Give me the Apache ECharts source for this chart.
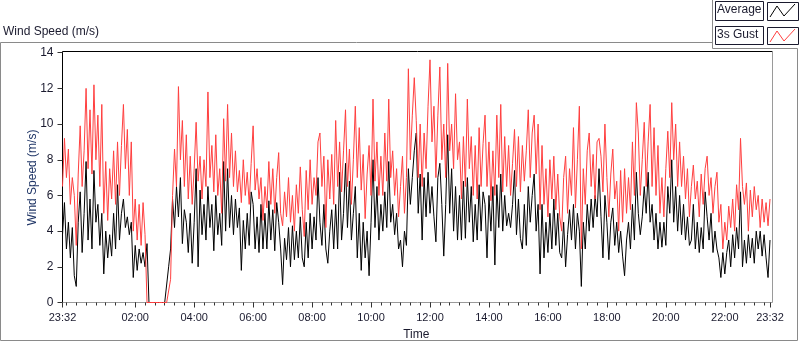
<!DOCTYPE html>
<html><head><meta charset="utf-8">
<script src="https://cdn.jsdelivr.net/npm/echarts@6/dist/echarts.min.js"></script>
<style>html,body{margin:0;padding:0;background:#fff}#c{width:800px;height:342px}</style>
</head><body><div id="c"></div>
<script>
// ---- data (sampled every 4 minutes from 23:32 to 23:32 next day) ----
const startMinute = 23 * 60 + 32;
const stepMinutes = 4;
const tickLabels = ['23:32','02:00','04:00','06:00','08:00','10:00','12:00','14:00','16:00','18:00','20:00','22:00','23:32'];
const seriesNames = ['Average', '3s Gust'];
const averageValues = [
3.8,5.6,3.0,4.5,2.5,4.2,1.5,0.9,4.5,6.2,
2.8,5.0,7.9,3.5,5.8,3.0,7.4,4.5,5.5,3.2,
5.0,1.6,4.0,2.5,3.8,2.6,5.0,3.0,6.6,3.5,
5.0,5.8,4.2,4.8,3.8,4.5,1.4,3.2,1.8,3.0,
2.2,2.8,2.0,3.3,0,0,0,0,0,0,
0,0,0,0,2.0,3.0,5.8,4.2,6.5,4.8,
7.0,3.3,5.2,4.5,2.8,5.0,2.2,4.5,7.5,2.0,
6.3,3.8,5.5,3.5,6.5,4.2,5.5,2.9,6.0,3.8,
5.0,3.2,7.9,4.0,7.5,4.2,6.0,3.8,5.8,4.2,
5.3,1.8,4.6,3.0,5.0,3.2,6.2,5.5,3.0,4.8,
2.8,5.5,3.0,5.0,3.0,5.7,3.5,5.2,2.9,5.6,
4.5,3.0,1.0,3.6,2.4,4.2,2.0,4.3,2.4,4.0,
2.5,4.8,2.5,2.0,4.5,2.5,5.0,3.0,4.8,3.5,
7.0,4.5,3.2,5.5,3.0,2.2,4.0,5.2,3.0,5.5,
3.0,7.3,3.5,5.0,7.8,4.2,6.8,3.5,5.0,6.5,
2.5,5.0,1.8,4.5,2.5,4.0,1.5,4.5,8.0,4.2,
6.5,3.5,5.5,4.0,6.2,4.2,7.9,4.5,5.5,3.8,
5.0,3.0,3.5,2.0,4.0,3.2,7.5,5.5,7.0,8.5,
9.5,5.0,7.2,3.5,7.0,4.8,7.3,5.0,6.5,4.8,
3.4,7.0,7.8,5.5,2.6,5.5,9.4,5.0,7.5,4.0,
6.5,3.5,6.0,3.5,6.8,3.6,7.0,4.5,6.5,3.4,
5.5,3.5,6.6,4.0,6.2,5.5,2.5,6.0,4.0,6.5,
2.1,6.6,4.2,7.2,4.0,6.0,4.3,5.0,4.2,5.5,
7.4,3.8,5.8,3.6,3.0,5.5,3.2,6.5,4.5,6.0,
7.2,4.0,5.5,1.6,5.5,2.5,4.5,2.8,5.0,3.0,
5.8,3.2,5.0,2.8,2.5,4.5,2.0,3.8,5.2,3.5,
5.5,3.0,5.0,4.0,0.9,4.5,3.0,5.5,4.0,5.8,
4.2,6.0,4.8,7.5,4.8,2.5,6.0,4.5,2.4,4.5,
5.3,3.2,4.5,2.8,4.0,2.6,1.5,3.5,4.5,3.0,
5.5,3.5,7.3,5.0,3.8,4.8,6.5,5.0,7.3,4.5,
5.5,3.5,5.0,3.0,4.5,3.1,4.5,3.2,6.5,5.0,
8.0,4.5,6.5,4.0,6.0,3.8,5.5,3.5,4.8,3.2,
3.5,5.5,3.0,4.5,2.8,4.2,3.0,6.2,4.8,3.5,
5.0,2.8,4.0,3.0,2.5,1.4,2.8,1.6,2.8,3.5,
2.0,3.8,2.5,4.2,3.0,6.2,2.0,3.5,2.2,3.8,
2.5,3.6,2.2,4.0,3.0,4.0,2.6,3.8,2.5,1.4,3.5
];
const gustValues = [
6.5,9.2,7.0,8.6,5.5,7.0,6.0,3.2,7.2,9.9,
6.5,8.5,12.0,7.5,10.8,7.2,12.2,8.0,10.5,6.5,
11.1,5.0,7.9,4.6,7.5,5.8,8.5,5.5,9.0,6.0,
8.8,11.1,7.5,9.7,6.0,9.0,4.0,5.8,3.5,5.5,
3.2,5.6,3.8,0,0,0,0,0,0,0,
0,0,0,0,0,1.3,6.0,8.6,6.5,12.1,
8.0,10.2,6.5,9.4,5.8,8.2,5.5,7.5,10.1,6.8,
8.2,5.8,8.0,6.5,11.8,7.0,8.8,6.2,9.4,6.0,
7.5,5.0,10.3,6.8,11.1,7.0,9.5,6.5,8.5,6.2,
7.4,5.6,8.0,6.0,7.3,5.5,7.8,9.9,6.3,7.5,
5.8,7.0,4.6,6.5,5.3,7.9,5.5,7.5,5.0,7.0,
8.4,5.0,4.3,6.2,4.8,7.0,4.5,6.0,4.0,6.6,
5.0,7.6,5.2,3.7,7.4,5.2,8.0,5.5,7.0,6.0,
9.0,9.5,6.5,8.2,4.2,8.0,5.8,8.3,5.5,10.2,
6.5,9.0,6.2,8.5,10.8,6.5,8.6,5.5,8.0,11.0,
7.0,9.8,6.3,8.3,4.7,7.2,8.8,6.0,11.4,6.8,
9.0,6.0,8.2,6.0,9.5,6.8,11.4,7.0,8.5,6.0,
7.5,4.8,6.5,8.2,5.0,7.0,13.1,8.0,10.5,12.6,
10.2,7.0,10.0,6.5,9.5,7.5,11.0,13.6,9.0,11.0,
7.0,10.5,13.2,8.0,10.0,7.0,13.4,8.5,10.0,7.5,
11.7,8.0,9.0,5.8,9.3,6.5,11.4,7.5,9.3,6.0,
8.8,5.8,9.8,6.5,8.9,10.5,6.5,9.0,5.7,8.5,
6.0,10.5,7.0,11.1,6.2,9.3,6.5,8.8,6.0,7.8,
9.7,6.5,9.3,6.2,8.8,6.8,8.5,10.8,7.0,9.5,
10.5,7.2,10.0,5.2,8.8,5.5,7.5,4.8,8.0,5.8,
8.2,5.2,7.2,4.8,4.0,7.0,8.2,5.0,7.5,6.0,
9.8,5.3,8.0,11.0,3.0,7.5,5.5,8.5,9.5,6.5,
8.3,5.8,9.0,9.2,8.2,6.2,10.0,7.0,4.8,7.2,
8.6,5.8,6.8,4.0,7.4,4.5,7.5,5.0,7.0,5.2,
9.0,6.0,11.2,9.5,6.0,8.0,10.1,6.5,9.0,11.1,
6.5,9.8,6.0,8.8,5.0,7.0,4.8,7.5,9.6,7.0,
11.2,8.0,10.0,6.5,9.0,6.5,8.2,5.8,7.5,4.8,
6.5,7.7,5.8,6.8,4.8,7.2,5.5,7.5,8.2,6.0,
7.0,5.0,6.5,7.3,4.5,5.5,3.0,4.5,3.5,5.4,
4.2,5.8,4.0,6.6,5.2,9.2,6.5,5.5,6.7,4.0,
6.3,4.8,6.5,5.2,6.0,4.2,5.8,4.5,5.6,4.3,5.8
];

// time categories for the sampling grid
function pad(n){ return (n < 10 ? '0' : '') + n; }
const timeCategories = averageValues.map(function(_, i){
  const m = (startMinute + i * stepMinutes) % 1440;
  return pad(Math.floor(m / 60)) + ':' + pad(m % 60);
});
function isLabel(idx, val){ return idx === 0 || idx === timeCategories.length - 1 || (val !== '23:32' && tickLabels.indexOf(val) >= 0); }
function isMinorTick(idx, val){ const m = (startMinute + idx * stepMinutes) % 1440; return m % 20 === 0; }

const FONT = 'Liberation Sans, Arial, sans-serif';
const TXT = '#1a1a2e';
const G = { left: 62.5, top: 52.7, width: 707.5, height: 249.8 };

const chart = echarts.init(document.getElementById('c'), null, { renderer: 'canvas' });
chart.setOption({
  animation: false,
  backgroundColor: '#ffffff',
  textStyle: { fontFamily: FONT },
  grid: { left: G.left, top: G.top, width: G.width, height: G.height, containLabel: false, outerBoundsMode: 'none' },
  xAxis: [{
    type: 'category', data: timeCategories, boundaryGap: false,
    axisLine: { show: false },
    axisTick: { show: true, length: 5, interval: isLabel, lineStyle: { color: '#333' } },
    axisLabel: { interval: isLabel, margin: 10, fontSize: 11, color: TXT, fontFamily: FONT },
    splitLine: { show: false },
    name: 'Time', nameLocation: 'middle', nameGap: 26, nameMoveOverlap: false,
    nameTextStyle: { fontSize: 12, color: TXT, fontFamily: FONT }
  }, {
    type: 'category', data: timeCategories, boundaryGap: false, position: 'bottom',
    axisLine: { show: false },
    axisTick: { show: true, length: 3, interval: isMinorTick, lineStyle: { color: '#333' } },
    axisLabel: { show: false }, splitLine: { show: false }
  }],
  yAxis: {
    type: 'value', min: 0, max: 14, interval: 2,
    axisLine: { show: false },
    axisTick: { show: true, length: 5, lineStyle: { color: '#333' } },
    axisLabel: { margin: 9, fontSize: 12, color: TXT, fontFamily: FONT },
    splitLine: { show: false },
    name: 'Wind Speed (m/s)', nameLocation: 'middle', nameGap: 24, nameMoveOverlap: false,
    nameTextStyle: { fontSize: 12, color: '#1f3566', fontFamily: FONT }
  },
  series: [{
    name: seriesNames[0], type: 'line', data: averageValues, xAxisIndex: 0,
    showSymbol: false, symbol: 'none', sampling: null,
    lineStyle: { color: '#000000', width: 1 }, z: 3
  }, {
    name: seriesNames[1], type: 'line', data: gustValues, xAxisIndex: 0,
    showSymbol: false, symbol: 'none',
    lineStyle: { color: '#ff3f3f', width: 1 }, z: 4
  }],
  graphic: [
    // outer frame
    { type: 'polyline', z: 0, shape: { points: [[712.5,42.5],[0.5,42.5],[0.5,340.5],[797.5,340.5],[797.5,48.5],[712.5,48.5],[712.5,0]] }, style: { stroke: '#8a8a8a', fill: null, lineWidth: 1 }, silent: true },
    // plot frame (drawn beneath the series)
    { type: 'polyline', z: 0, shape: { points: [[62.5,302.5],[62.5,51.5],[772.5,51.5]] }, style: { stroke: '#000', fill: null, lineWidth: 1 }, silent: true },
    { type: 'polyline', z: 0, shape: { points: [[772.5,51.5],[772.5,302.5],[62.5,302.5]] }, style: { stroke: '#9a9a9a', fill: null, lineWidth: 1 }, silent: true },
    // title
    { type: 'text', left: 3, top: 26, style: { text: 'Wind Speed (m/s)', font: '12px ' + FONT, fill: TXT } },
    // legend: Average
    { type: 'rect', shape: { x: 715.5, y: 1.5, width: 48, height: 19 }, style: { fill: '#fff', stroke: '#1a1a2e', lineWidth: 1 } },
    { type: 'text', left: 717, top: 4, style: { text: seriesNames[0], font: '12px ' + FONT, fill: TXT } },
    { type: 'rect', shape: { x: 767.5, y: 2.5, width: 31, height: 18 }, style: { fill: '#fff', stroke: '#1a1a2e', lineWidth: 1 } },
    { type: 'polyline', shape: { points: [[770,17],[777,6],[784,16],[795,4]] }, style: { stroke: '#000', fill: null, lineWidth: 1 } },
    // legend: 3s Gust
    { type: 'rect', shape: { x: 715.5, y: 26.5, width: 48, height: 18 }, style: { fill: '#fff', stroke: '#1a1a2e', lineWidth: 1 } },
    { type: 'text', left: 717, top: 29, style: { text: seriesNames[1], font: '12px ' + FONT, fill: TXT } },
    { type: 'rect', shape: { x: 767.5, y: 27.5, width: 31, height: 17 }, style: { fill: '#fff', stroke: '#1a1a2e', lineWidth: 1 } },
    { type: 'polyline', shape: { points: [[770,42],[777,31],[784,41],[795,29]] }, style: { stroke: '#ff3f3f', fill: null, lineWidth: 1 } }
  ]
});
</script>
</body></html>
